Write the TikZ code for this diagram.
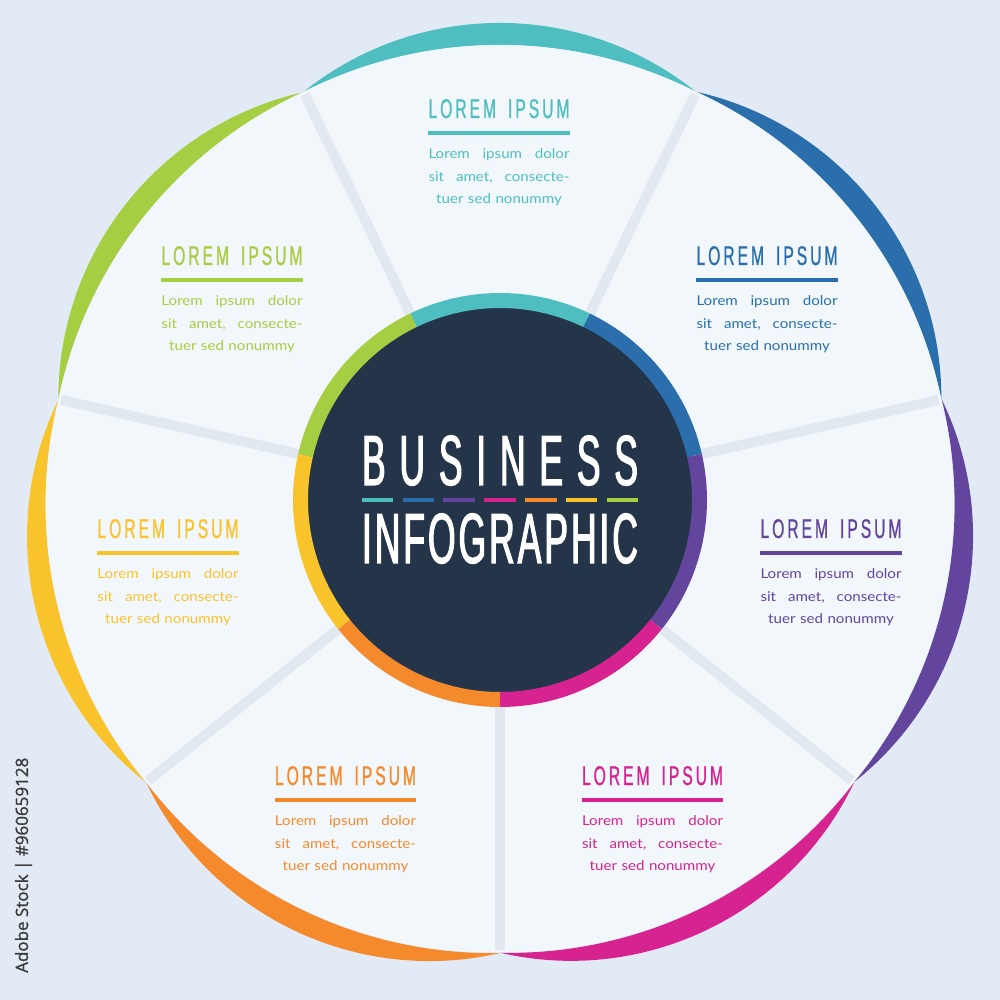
\documentclass[tikz,border=0pt]{standalone}
\usepackage{fontspec}
\usetikzlibrary{positioning}
\newfontfamily\headfont[FakeStretch=0.58, FakeBold=0.8]{Liberation Sans}
\newfontfamily\titlefont[FakeStretch=0.5, FakeBold=1.6]{Liberation Sans}
\newfontfamily\bodyfont[FakeStretch=1.12]{Lato}
\newfontfamily\markfont[FakeBold=1.2]{Open Sans}
\definecolor{cteal}{HTML}{4FBEC0}
\definecolor{cblue}{HTML}{2A6FAC}
\definecolor{cpurple}{HTML}{63459D}
\definecolor{cmagenta}{HTML}{D62390}
\definecolor{corange}{HTML}{F48A2C}
\definecolor{cyellow}{HTML}{F8C32B}
\definecolor{cgreen}{HTML}{A6CE42}
\definecolor{cnavy}{HTML}{243449}
\definecolor{cbg}{HTML}{E2EBF5}
\definecolor{cpaper}{HTML}{F2F7FB}
\definecolor{csep}{HTML}{E1E8F0}
\definecolor{cmark}{HTML}{3A3A3A}
\tikzset{
  heading/.style={font=\headfont\fontsize{27}{27}\selectfont, inner sep=0pt},
  body/.style={font=\bodyfont\fontsize{13.5}{22.6}\selectfont, text width=141pt, align=center, inner sep=0pt},
  titletext/.style={font=\titlefont\fontsize{71}{71}\selectfont, text=white, inner sep=0pt},
  sepline/.style={draw=csep, line width=10pt},
}
\newcommand{\lorem}{L\hfill O\hfill R\hfill E\hfill M\hfill\hspace{6pt}\hfill I\hfill P\hfill S\hfill U\hfill M}
\newcommand{\infoblock}[3]{%
  \node[heading, text=#2, anchor=base] (#1-head) at (#3) {\makebox[141pt]{\lorem}};
  \draw[#2, line width=3.5pt] ([yshift=-15pt]#1-head.base west) -- ([yshift=-15pt]#1-head.base east);
  \node[body, text=#2, anchor=base] (#1-text) at ([yshift=-40.5pt]#1-head.base)
    {\makebox[141pt]{Lorem\hfill ipsum\hfill dolor}\\ \makebox[141pt]{sit\hfill amet,\hfill consecte-}\\ tuer sed nonummy};
}
\begin{document}
\begin{tikzpicture}[x=1pt, y=1pt]
  \fill[cbg] (-500,-500) rectangle (500,500);
  \useasboundingbox (-500,-500) rectangle (500,500);
  % coloured outer crescents
  \foreach \m/\c in {90/cteal, 38.571/cblue, -12.857/cpurple, -64.286/cmagenta,
                     -115.714/corange, -167.143/cyellow, 141.429/cgreen}
    \fill[\c] (\m+25.714:453) arc[start angle=\m+38.7, end angle=\m-38.7, radius=314]
              arc[start angle=\m-26.9, end angle=\m+26.9, radius=434] -- cycle;
  % light face
  \fill[cpaper] (115.714:453)
    \foreach \m in {90, 38.571, -12.857, -64.286, -115.714, -167.143, -218.571}
      { arc[start angle=\m+26.9, end angle=\m-26.9, radius=434] } -- cycle;
  \foreach \v in {115.714, 64.286, 12.857, -38.571, -90, -141.429, -192.857}
    \draw[sepline] (0,0) -- (\v:450);
  % centre disc
  \fill[cnavy] (0,0) circle[radius=193];
  \foreach \m/\c in {90/cteal, 38.571/cblue, -12.857/cpurple, -64.286/cmagenta,
                     -115.714/corange, -167.143/cyellow, 141.429/cgreen}
    \draw[\c, line width=15pt] (\m+25.714:199.5) arc[start angle=\m+25.714, end angle=\m-25.714, radius=199.5];
  \node[titletext, anchor=base] (business) at (0,15) {\makebox[276pt]{B\hfill U\hfill S\hfill I\hfill N\hfill E\hfill S\hfill S}};
  \node[titletext, anchor=base] (infographic) at (0,-63) {\makebox[276pt]{I\hfill N\hfill F\hfill O\hfill G\hfill R\hfill A\hfill P\hfill H\hfill I\hfill C}};
  \foreach \c [count=\k] in {cteal, cblue, cpurple, cmagenta, corange, cyellow, cgreen}
    \fill[\c] ({(\k-4)*40.8-15.85}, -2.4) rectangle ++(31.7, 4.8);
  % text blocks
  \infoblock{teal}{cteal}{-1,382}
  \infoblock{blue}{cblue}{267,235}
  \infoblock{green}{cgreen}{-268,235}
  \infoblock{purple}{cpurple}{331,-38}
  \infoblock{yellow}{cyellow}{-332,-38}
  \infoblock{orange}{corange}{-154.5,-285}
  \infoblock{magenta}{cmagenta}{152.5,-285}
  \node[rotate=90, anchor=base west, inner sep=0pt, text=cmark, font=\markfont\fontsize{17}{17}\selectfont] (stockmark) at (-472,-473) {Adobe Stock | \#960659128};
\end{tikzpicture}
\end{document}
